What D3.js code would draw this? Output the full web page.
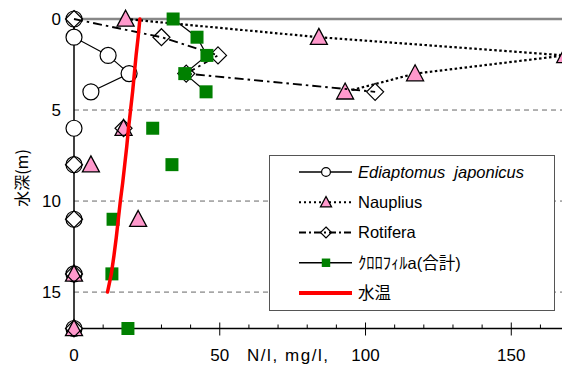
<!DOCTYPE html>
<html><head><meta charset="utf-8">
<script src="https://cdn.jsdelivr.net/npm/d3@7"></script>
<style>body{margin:0;background:#fff}svg{display:block}</style>
</head><body>
<script>
// ---- data ----
const upperDepths = [0, 1, 2, 3, 4];           // connected with lines
const lowerDepths = [6, 8, 11, 14, 17];        // markers only
const ediaptomusUpper = [0, 0, 11.7, 18.9, 5.8];
const ediaptomusLower = [0, 0, 0, 0, 0];
const naupliusUpper = [17.7, 84, 168.5, 117, 93];
const naupliusLower = [17, 5.8, 22, 0, 0];
const rotiferaUpper = [0, 30, 49.4, 38.5, 103.3];
const rotiferaLower = [17, 0, 0, 0, 0];
const chlUpper = [34, 42.2, 45.6, 38, 45.3];
const chlLower = [27, 33.6, 13.4, 13, 18.5];
const tempDepths = [0,1,2,3,4,5,6,7,8,9,10,11,12,13,14,15];
const tempValues = [22.6,22.0,21.3,20.7,20.1,19.4,18.7,18.1,17.4,16.7,15.9,15.2,14.5,13.7,12.8,11.5];
const xMajorTicks = [0, 50, 100, 150];
const xMinorTicks = [10,20,30,40,60,70,80,90,110,120,130,140,160];
const yTicks = [0, 5, 10, 15];
const legendLabels = ["Ediaptomus  japonicus", "Nauplius", "Rotifera", "ｸﾛﾛﾌｨﾙa(合計)", "水温"];

const W = 562, H = 365;
const svg = d3.select("body").append("svg").attr("width", W).attr("height", H);
const x = d3.scaleLinear().domain([0, 167.4]).range([74, 562]);
const y = d3.scaleLinear().domain([0, 17]).range([19, 328.5]);
const font = "'Liberation Sans', Arial, 'Noto Sans CJK JP', sans-serif";

// gridlines
svg.selectAll("line.grid").data([5, 10, 15]).join("line")
  .attr("x1", x(0)).attr("x2", W).attr("y1", d => y(d)).attr("y2", d => y(d))
  .attr("stroke", "#666").attr("stroke-width", 1).attr("stroke-dasharray", "5,4");
svg.append("line").attr("x1", x(0)).attr("x2", W).attr("y1", y(0)).attr("y2", y(0))
  .attr("stroke", "#888").attr("stroke-width", 2.5);

// axes
svg.append("line").attr("x1", x(0)).attr("x2", x(0)).attr("y1", y(0)).attr("y2", y(17))
  .attr("stroke", "#000").attr("stroke-width", 1.5);
svg.append("line").attr("x1", x(0)).attr("x2", W).attr("y1", y(17)).attr("y2", y(17))
  .attr("stroke", "#000").attr("stroke-width", 1.5);
svg.selectAll("line.minor").data(xMinorTicks).join("line")
  .attr("x1", d => x(d)).attr("x2", d => x(d)).attr("y1", y(17) - 4).attr("y2", y(17))
  .attr("stroke", "#000");
svg.selectAll("line.major").data(xMajorTicks.slice(1)).join("line")
  .attr("x1", d => x(d)).attr("x2", d => x(d)).attr("y1", y(17) - 6).attr("y2", y(17) + 7)
  .attr("stroke", "#000");
svg.selectAll("text.xt").data(xMajorTicks).join("text")
  .attr("x", d => x(d)).attr("y", 361).attr("text-anchor", "middle")
  .attr("font-family", font).attr("font-size", 17).text(d => d);
svg.append("text").attr("x", 247).attr("y", 361).attr("font-family", font).attr("font-size", 17)
  .attr("textLength", 81).attr("lengthAdjust", "spacing").text("N/l, mg/l,");
svg.selectAll("text.yt").data(yTicks).join("text")
  .attr("x", 61).attr("y", d => y(d)).attr("dy", "0.36em").attr("text-anchor", "end")
  .attr("font-family", font).attr("font-size", 17).text(d => d);
svg.append("text").attr("transform", "translate(28,178) rotate(-90)").attr("text-anchor", "middle")
  .attr("font-family", "'Noto Sans CJK JP', sans-serif").attr("font-size", 16).text("水深(m)");

// marker shapes
function marker(g, type, cx, cy, s) {
  if (type === "circle") {
    g.append("circle").attr("cx", cx).attr("cy", cy).attr("r", 8 * s)
      .attr("fill", "#fff").attr("stroke", "#000").attr("stroke-width", 1.2);
  } else if (type === "triangle") {
    const w = 8.5 * s, h = 16 * s;
    g.append("path").attr("d", `M${cx},${cy - h * 0.55}L${cx + w},${cy + h * 0.45}L${cx - w},${cy + h * 0.45}Z`)
      .attr("fill", "#FF99CC").attr("stroke", "#000").attr("stroke-width", 1.3);
  } else if (type === "diamond") {
    const r = 8.5 * s;
    g.append("path").attr("d", `M${cx},${cy - r}L${cx + r},${cy}L${cx},${cy + r}L${cx - r},${cy}Z`)
      .attr("fill", "none").attr("stroke", "#000").attr("stroke-width", 1.2);
  } else if (type === "square") {
    const r = 6.5 * s;
    g.append("rect").attr("x", cx - r).attr("y", cy - r).attr("width", 2 * r).attr("height", 2 * r)
      .attr("fill", "#008000");
  }
}

const series = [
  {up: ediaptomusUpper, low: ediaptomusLower, type: "circle", dash: null, w: 1.2},
  {up: naupliusUpper, low: naupliusLower, type: "triangle", dash: "2.5,2.5", w: 2.2},
  {up: rotiferaUpper, low: rotiferaLower, type: "diamond", dash: "9,4,2.5,4", w: 1.9},
  {up: chlUpper, low: chlLower, type: "square", dash: null, w: 1.2}
];
const line = d3.line().x(d => x(d[0])).y(d => y(d[1]));
series.forEach(s => {
  const g = svg.append("g");
  const pts = s.up.map((v, i) => [v, upperDepths[i]]);
  g.append("path").attr("d", line(pts)).attr("fill", "none").attr("stroke", "#000")
    .attr("stroke-width", s.w).attr("stroke-dasharray", s.dash);
  pts.forEach(p => marker(g, s.type, x(p[0]), y(p[1]), 1));
  s.low.forEach((v, i) => marker(g, s.type, x(v), y(lowerDepths[i]), 1));
});

// temperature
svg.append("path").attr("d", line(tempValues.map((v, i) => [v, tempDepths[i]])))
  .attr("fill", "none").attr("stroke", "#ff0000").attr("stroke-width", 3.5).attr("stroke-linecap", "round");

// legend
const lg = svg.append("g");
lg.append("rect").attr("x", 269.5).attr("y", 155.5).attr("width", 285).attr("height", 155)
  .attr("fill", "#fff").attr("stroke", "#555").attr("stroke-width", 1);
const rowY = d3.scalePoint().domain(d3.range(5)).range([172, 293]);
const legTypes = ["circle", "triangle", "diamond", "square", null];
const legDash = [null, "2,3", "7,3,2,3", null, null];
legendLabels.forEach((lab, i) => {
  const yy = rowY(i);
  const isTemp = i === 4;
  lg.append("line").attr("x1", 299).attr("x2", 352).attr("y1", yy).attr("y2", yy)
    .attr("stroke", isTemp ? "#ff0000" : "#000").attr("stroke-width", isTemp ? 4 : (legDash[i] ? 1.8 : 1.3))
    .attr("stroke-dasharray", legDash[i]);
  if (legTypes[i]) marker(lg, legTypes[i], 326, yy, i === 0 ? 0.55 : 0.65);
  lg.append("text").attr("x", 358).attr("y", yy).attr("dy", "0.36em")
    .attr("font-family", font).attr("font-size", 16.5)
    .attr("font-style", i === 0 ? "italic" : null).style("white-space", "pre").text(lab);
});
</script>
</body></html>
